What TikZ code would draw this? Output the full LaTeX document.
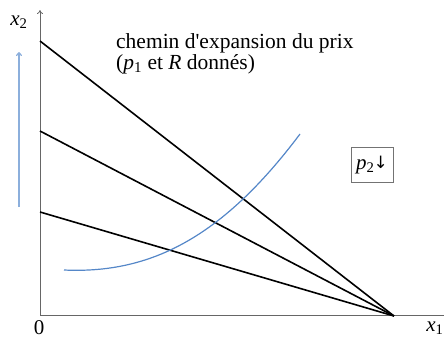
\documentclass[tikz,border=0pt]{standalone}
\usepackage{fontspec}
\setmainfont{Liberation Serif}
\usetikzlibrary{arrows.meta}
\begin{document}
\begin{tikzpicture}[x=1pt,y=-1pt,
  axis/.style={draw=black!60, line width=0.8pt},
  budget/.style={draw=black, line width=1.6pt},
  lbl/.style={font=\fontsize{21}{24}\selectfont, inner sep=0pt},
  txt/.style={font=\fontsize{21.5}{24}\selectfont, inner sep=0pt, anchor=base west, align=left}]
\definecolor{curveblue}{RGB}{85,135,200}
\definecolor{arrowblue}{RGB}{140,175,220}
\useasboundingbox (0,0) rectangle (444,340);
\coordinate (O) at (40,315);
\coordinate (Ytop) at (40,10);
\coordinate (Xend) at (444,315);
\draw[axis] (O) -- (Xend);
\draw[axis,-{To[length=4pt,width=6pt]}] (O) -- (Ytop);
\coordinate (A1) at (40,41);
\coordinate (A2) at (40,131);
\coordinate (A3) at (40,212);
\coordinate (P) at (394,316);
\draw[budget] (A1) -- (P);
\draw[budget] (A2) -- (P);
\draw[budget] (A3) -- (P);
\coordinate (C0) at (64,270);
\coordinate (C1) at (300,134);
\draw[curveblue, line width=1.2pt] (C0) .. controls (150,274) and (222,238) .. (C1);
\coordinate (B0) at (19,207);
\coordinate (B1) at (19,52);
\draw[arrowblue, line width=1.2pt, -{To[length=4pt,width=6pt]}] (B0) -- (B1);
\node[lbl] (x2) at (19,22) {\textit{x}\textsubscript{2}};
\node[lbl] (zero) at (39,328) {0};
\node[lbl] (x1) at (435,328) {\textit{x}\textsubscript{1}};
\node[txt] (t1) at (116,48) {chemin d\textquotesingle expansion du prix};
\node[txt] (t2) at (116,69) {(\textit{p}\textsubscript{1} et \textit{R} donnés)};
\node[draw=black!55, line width=0.8pt, minimum width=42pt, minimum height=35pt, font=\fontsize{21}{24}\selectfont, inner sep=1pt] (box) at (372,165) {\textit{p}\textsubscript{2}\kern-1pt\raisebox{1pt}{\fontspec{DejaVu Sans}\fontsize{17}{20}\selectfont ↓}};
\end{tikzpicture}
\end{document}
